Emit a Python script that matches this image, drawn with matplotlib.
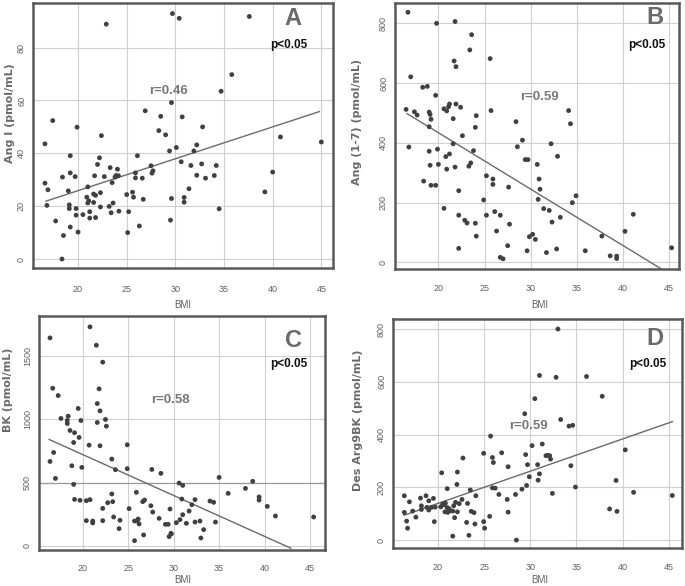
import matplotlib
matplotlib.use("Agg")
import matplotlib.pyplot as plt

# ---------------- data ----------------
bmi_a = [16.6, 16.6, 16.9, 16.8, 17.4, 17.7, 18.4, 18.5, 18.35, 19.0, 19.2, 19.2, 19.1, 19.1, 19.2,
         19.7, 19.8, 19.8, 19.9, 20.0, 20.5, 21.0, 20.9, 21.0, 21.1, 21.2, 21.2, 21.6, 21.6, 21.7,
         21.8, 21.8, 22.0, 22.2, 22.3, 22.3, 22.4, 22.7, 22.9, 23.2, 23.3, 23.4, 23.5, 23.6, 23.8,
         23.9, 24.05, 24.15, 24.2, 25.0, 25.1, 25.2, 25.6, 25.7, 25.9, 25.9, 26.1, 26.3, 26.6, 26.7,
         26.9, 27.5, 27.6, 27.7, 28.3, 28.5, 29.0, 29.4, 29.5, 29.6, 29.6, 29.7, 30.1, 30.4, 30.6,
         30.7, 30.9, 30.9, 31.4, 31.6, 31.9, 32.2, 32.2, 32.7, 32.8, 33.1, 34.0, 34.2, 34.5, 34.7,
         35.8, 37.6, 39.2, 40.0, 40.8, 45.0]
ang1 = [43.6, 28.7, 26.2, 20.3, 52.4, 14.4, 31.0, 8.9, 0.0, 25.8, 39.1, 32.6, 20.5, 19.1, 12.1,
        31.2, 19.1, 16.6, 49.9, 10.2, 16.8, 27.3, 23.4, 21.2, 22.0, 17.9, 15.5, 24.6, 21.4, 31.5,
        24.1, 15.7, 35.8, 38.3, 25.1, 19.7, 46.7, 31.2, 88.9, 19.9, 34.6, 17.5, 28.9, 21.2, 31.0,
        31.6, 34.0, 31.5, 18.1, 24.4, 10.0, 17.9, 25.3, 23.4, 32.6, 30.7, 39.1, 12.5, 30.6, 22.6,
        56.1, 35.3, 32.5, 33.4, 48.6, 54.0, 47.0, 40.9, 14.7, 22.9, 59.2, 92.9, 42.2, 91.1, 36.8,
        53.8, 23.3, 21.5, 26.6, 35.4, 40.9, 43.2, 31.7, 36.0, 50.0, 30.6, 31.6, 35.4, 19.0, 63.5,
        69.8, 91.8, 25.4, 32.9, 46.2, 44.3]
trend_a_x = [16.7, 44.8]
trend_a_y = [21.9, 55.8]

bmi_b = [16.7, 16.5, 16.8, 17.0, 17.4, 17.7, 18.4, 18.3, 18.8, 19.0, 19.0, 19.1, 19.2, 19.0, 19.1,
         19.2, 19.7, 19.9, 19.8, 20.0, 19.7, 20.6, 20.6, 20.8, 20.9, 20.9, 21.1, 21.2, 21.2, 21.6,
         21.6, 21.7, 21.8, 21.8, 21.9, 21.9, 22.2, 22.2, 22.2, 22.4, 22.6, 22.85, 23.1, 23.4, 23.3,
         23.5, 23.6, 23.8, 24.0, 24.0, 24.1, 24.1, 24.9, 25.2, 25.2, 25.6, 25.7, 25.9, 25.9, 26.1,
         26.3, 26.7, 26.7, 27.0, 27.6, 27.5, 27.7, 28.4, 28.55, 29.1, 29.4, 29.7, 29.6, 29.85, 30.2,
         30.5, 30.7, 30.8, 30.9, 31.0, 31.4, 31.7, 32.0, 32.2, 32.3, 32.8, 32.9, 33.2, 34.1, 34.3,
         34.5, 34.9, 35.9, 37.7, 38.6, 39.3, 39.3, 40.2, 41.1, 45.25]
ang17 = [837, 512, 386, 621, 504, 493, 272, 586, 589, 454, 503, 495, 479, 372, 325,
         258, 559, 379, 800, 328, 258, 514, 181, 354, 312, 507, 521, 363, 530, 481,
         397, 674, 319, 806, 655, 530, 158, 240, 47, 519, 424, 141, 132, 711, 322,
         333, 762, 374, 131, 452, 88, 491, 209, 158, 290, 682, 508, 279, 261, 170,
         105, 158, 17, 12, 252, 56, 128, 471, 387, 409, 344, 344, 39, 86, 94,
         77, 328, 211, 279, 245, 180, 33, 174, 397, 135, 45, 355, 151, 508, 464,
         200, 223, 39, 88, 22, 21, 13, 104, 161, 49]
trend_b_x = [16.6, 44.2]
trend_b_y = [498, -23]

bmi_c = [16.4, 16.7, 16.4, 16.8, 17.0, 17.3, 17.6, 18.3, 18.4, 18.3, 18.6, 18.8, 19.0, 19.0, 19.1,
         19.1, 19.5, 19.6, 19.8, 19.7, 19.9, 20.4, 20.4, 20.7, 20.8, 20.8, 21.1, 21.1, 21.5, 21.6,
         21.6, 21.8, 21.9, 21.9, 22.2, 22.2, 22.2, 22.5, 22.6, 22.75, 23.2, 23.2, 23.3, 23.4, 23.6,
         24.0, 24.1, 24.9, 24.9, 25.1, 25.7, 25.7, 25.9, 26.0, 26.1, 26.2, 26.6, 26.7, 26.8, 27.5,
         27.6, 27.7, 28.4, 28.6, 29.1, 29.4, 29.5, 29.6, 29.7, 29.75, 30.3, 30.6, 30.7, 31.0, 30.9,
         31.0, 31.4, 31.7, 32.0, 32.35, 32.35, 32.9, 33.0, 33.3, 34.0, 34.4, 34.6, 35.0, 36.0, 37.9,
         38.7, 39.4, 39.4, 40.3, 41.2, 45.4]
bk = [1645, 1247, 668, 739, 534, 1189, 1008, 992, 1026, 968, 913, 634, 487, 818, 895,
      368, 1087, 858, 992, 361, 621, 200, 358, 797, 366, 1732, 197, 182, 1587, 976,
      1126, 1242, 1068, 792, 1453, 297, 200, 1000, 947, 342, 687, 411, 350, 229, 603,
      137, 203, 800, 611, 295, 197, 42, 424, 200, 213, 174, 350, 87, 363, 318,
      605, 268, 218, 574, 171, 171, 74, 292, 100, 95, 184, 497, 208, 479, 371,
      247, 179, 276, 326, 366, 189, 197, 63, 129, 355, 345, 189, 542, 416, 455,
      511, 387, 363, 313, 237, 229]
trend_c_x = [16.3, 42.9]
trend_c_y = [842, -18]

bmi_d = [16.35, 16.35, 16.6, 16.7, 16.9, 17.25, 17.6, 18.1, 18.2, 18.2, 18.7, 18.8, 19.0, 19.0, 19.3,
         19.5, 19.6, 19.7, 20.3, 20.4, 20.5, 20.65, 20.75, 20.8, 21.0, 21.0, 21.05, 21.2, 21.3, 21.6,
         21.6, 21.7, 21.8, 21.9, 22.05, 22.1, 22.1, 22.3, 22.6, 22.7, 23.1, 23.2, 23.35, 23.5, 23.6,
         23.9, 24.0, 24.1, 24.95, 24.95, 25.05, 25.6, 25.7, 25.9, 25.9, 26.0, 26.2, 26.6, 26.9, 27.5,
         27.6, 27.6, 28.4, 28.5, 29.1, 29.4, 29.5, 29.6, 29.7, 29.9, 30.2, 30.5, 30.8, 30.85, 31.0,
         31.0, 31.3, 31.7, 31.9, 32.1, 32.2, 32.4, 32.8, 33.3, 34.2, 34.6, 34.4, 34.9, 36.1, 37.8,
         38.6, 39.3, 39.4, 40.3, 41.2, 45.4, 33.0]
desarg9bk = [168, 105, 72, 45, 145, 110, 87, 159, 130, 116, 168, 124, 149, 114, 124,
             158, 70, 125, 126, 255, 136, 134, 107, 140, 195, 123, 105, 119, 111, 110,
             15, 130, 85, 143, 211, 258, 107, 138, 154, 311, 67, 139, 18, 190, 109,
             104, 61, 168, 329, 70, 45, 90, 394, 313, 198, 294, 197, 173, 331, 154,
             106, 278, 173, 0, 193, 479, 324, 207, 286, 240, 358, 536, 286, 227, 251,
             624, 364, 320, 321, 320, 307, 177, 617, 457, 432, 435, 282, 201, 620, 545,
             118, 226, 109, 342, 181, 169, 800]
trend_d_x = [16.3, 45.4]
trend_d_y = [94, 449]

x_ticks = [20, 25, 30, 35, 40, 45]
x_label = "BMI"

# ---------------- figure ----------------
W, H = 685, 586
fig = plt.figure(figsize=(W / 100, H / 100), dpi=100)
fig.patch.set_facecolor("white")

FRAME = "#595959"
GRID = "#d0d0d0"
PT = "#404040"


def px_rect(x0, y0, x1, y1):
    return [x0 / W, 1 - y1 / H, (x1 - x0) / W, (y1 - y0) / H]


panels = [
    dict(rect=(33, 3, 333, 268), x=bmi_a, y=ang1, tx=trend_a_x, ty=trend_a_y,
         xlim=(15.37, 46.2), ylim=(-3.4, 96.9), yt=[0, 20, 40, 60, 80],
         letter="A", lpos=(0.867, 0.943), ppos=(0.853, 0.842), r="r=0.46", rpos=(0.453, 0.668),
         ylabel="Ang I (pmol/mL)", ylpos=(10, 113), xlpos=(183, 305), dark=None, xpad=12),
    dict(rect=(395, 3, 679, 269), x=bmi_b, y=ang17, tx=trend_b_x, ty=trend_b_y,
         xlim=(15.3, 46.05), ylim=(-22, 868), yt=[0, 200, 400, 600, 800],
         letter="B", lpos=(0.915, 0.944), ppos=(0.888, 0.842), r="r=0.59", rpos=(0.507, 0.645),
         ylabel="Ang (1-7) (pmol/mL)", ylpos=(357, 122), xlpos=(540, 305), dark=None, xpad=11),
    dict(rect=(39, 316, 325, 550), x=bmi_c, y=bk, tx=trend_c_x, ty=trend_c_y,
         xlim=(15.19, 46.65), ylim=(-32, 1818), yt=[0, 500, 1000, 1500],
         letter="C", lpos=(0.889, 0.896), ppos=(0.875, 0.797), r="r=0.58", rpos=(0.46, 0.64),
         ylabel="BK (pmol/mL)", ylpos=(8, 390), xlpos=(183, 580), dark=500, xpad=10),
    dict(rect=(393, 319, 682, 548), x=bmi_d, y=desarg9bk, tx=trend_d_x, ty=trend_d_y,
         xlim=(15.12, 46.45), ylim=(-30, 838), yt=[0, 200, 400, 600, 800],
         letter="D", lpos=(0.908, 0.916), ppos=(0.881, 0.802), r="r=0.59", rpos=(0.469, 0.534),
         ylabel="Des Arg9BK (pmol/mL)", ylpos=(358, 420), xlpos=(540, 580), dark=None, xpad=11),
]

for p in panels:
    ax = fig.add_axes(px_rect(*p["rect"]))
    ax.set_xlim(*p["xlim"])
    ax.set_ylim(*p["ylim"])
    ax.set_xticks(x_ticks)
    ax.set_yticks(p["yt"])
    ax.grid(True, color=GRID, lw=0.8, zorder=0)
    if p["dark"] is not None:
        ax.axhline(p["dark"], color="#9a9a9a", lw=0.9, zorder=1)
    ax.set_axisbelow(True)
    for s in ax.spines.values():
        s.set_color(FRAME)
        s.set_linewidth(1.8)
    ax.tick_params(length=0, labelsize=6.5, labelcolor="#606060")
    ax.tick_params(axis="x", pad=p["xpad"])
    ax.tick_params(axis="y", pad=5)
    for lab in ax.get_yticklabels():
        lab.set_rotation(90)
        lab.set_va("center")
    for lab in ax.get_xticklabels() + ax.get_yticklabels():
        lab.set_family("Liberation Sans")
    ax.scatter(p["x"], p["y"], s=12, color=PT, edgecolors="none", zorder=3)
    ax.plot(p["tx"], p["ty"], color="#6a6a6a", lw=1.0, zorder=2, clip_on=True)
    ax.text(*p["lpos"], p["letter"], transform=ax.transAxes, ha="center", va="center",
            fontsize=17, fontweight="bold", color="#6a6a6a", family="Liberation Sans")
    ax.text(*p["ppos"], "p<0.05", transform=ax.transAxes, ha="center", va="center",
            fontsize=8.5, fontweight="bold", color="#111111", family="Liberation Sans")
    ax.text(*p["rpos"], p["r"], transform=ax.transAxes, ha="center", va="center",
            fontsize=9.5, fontweight="bold", color="#777777", family="Liberation Sans")
    fig.text(p["ylpos"][0] / W, 1 - p["ylpos"][1] / H, p["ylabel"], rotation=90,
             ha="center", va="center", fontsize=8, fontweight="bold", color="#6a6a6a",
             family="DejaVu Sans")
    fig.text(p["xlpos"][0] / W, 1 - p["xlpos"][1] / H, x_label, ha="center", va="center",
             fontsize=7, color="#606060", family="Liberation Sans")

fig.savefig("out.png", dpi=100, facecolor="white")
